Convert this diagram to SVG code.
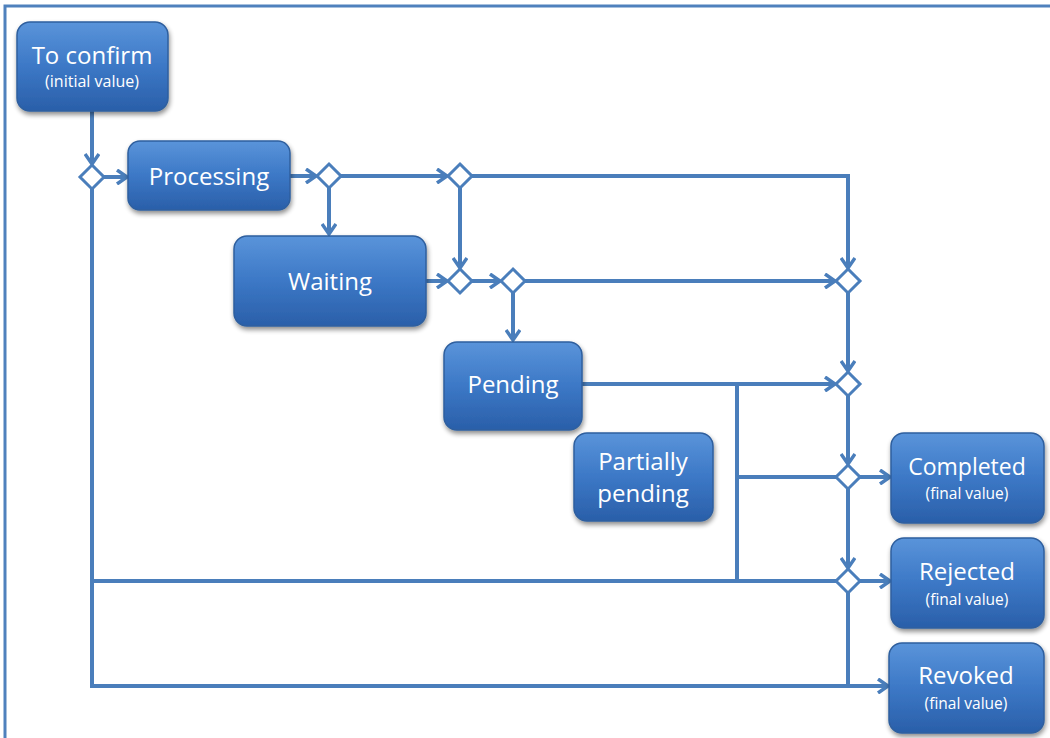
<svg xmlns="http://www.w3.org/2000/svg" width="1050" height="738" viewBox="0 0 1050 738">
<defs>
<linearGradient id="g" x1="0" y1="0" x2="0" y2="1">
<stop offset="0" stop-color="#5a94da"/>
<stop offset="0.5" stop-color="#3c78c6"/>
<stop offset="1" stop-color="#2a5fa9"/>
</linearGradient>
<filter id="sh" x="-10%" y="-10%" width="125%" height="130%">
<feGaussianBlur in="SourceAlpha" stdDeviation="2.5"/>
<feOffset dx="1" dy="3" result="b"/>
<feComponentTransfer><feFuncA type="linear" slope="0.45"/></feComponentTransfer>
<feMerge><feMergeNode/><feMergeNode in="SourceGraphic"/></feMerge>
</filter>
<marker id="ar" markerWidth="14" markerHeight="16" refX="12" refY="8" orient="auto" markerUnits="userSpaceOnUse">
<path d="M2,1 L12,8 L2,15" fill="none" stroke="#4a7ebb" stroke-width="3.5" stroke-linejoin="miter"/>
</marker>
</defs>
<style>
.box{fill:url(#g);stroke:#2f5f9e;stroke-width:1.5;filter:url(#sh)}
.t{font-family:"Open Sans",Lato,"Liberation Sans",sans-serif;fill:#ffffff;text-anchor:middle}
.big{font-size:24px}
.small{font-size:15.5px}
.ln{fill:none;stroke:#4a7ebb;stroke-width:4}
.ar{marker-end:url(#ar)}
.dm{fill:#ffffff;stroke:#4a7ebb;stroke-width:3}
.frame{fill:none;stroke:#4f81bd;stroke-width:3}
</style>
<path class="frame" d="M5,738 L5,6 L1050,6"/>
<g id="connectors">
<path class="ln ar" d="M92,111 L92,164"/>
<path class="ln ar" d="M104,177 L127,177"/>
<path class="ln ar" d="M92,189 L92,686 L888,686"/>
<path class="ln" d="M92,581 L836,581"/>
<path class="ln ar" d="M290,176 L316,176"/>
<path class="ln ar" d="M341,176 L447,176"/>
<path class="ln ar" d="M329,188 L329,234"/>
<path class="ln ar" d="M472,176 L848,176 L848,268"/>
<path class="ln ar" d="M460,188 L460,268"/>
<path class="ln ar" d="M426,281 L447,281"/>
<path class="ln ar" d="M472,281 L500,281"/>
<path class="ln ar" d="M525,281 L835,281"/>
<path class="ln ar" d="M513,293 L513,340"/>
<path class="ln ar" d="M848,293 L848,371"/>
<path class="ln ar" d="M582,384 L835,384"/>
<path class="ln" d="M737,384 L737,581"/>
<path class="ln" d="M737,477 L836,477"/>
<path class="ln ar" d="M848,396 L848,464"/>
<path class="ln ar" d="M860,477 L890,477"/>
<path class="ln ar" d="M848,489 L848,568"/>
<path class="ln ar" d="M860,581 L890,581"/>
<path class="ln" d="M848,593 L848,686"/>
</g>
<g id="decisions">
<path class="dm" d="M92,165 L104,177 L92,189 L80,177 Z"/>
<path class="dm" d="M329,164 L341,176 L329,188 L317,176 Z"/>
<path class="dm" d="M460,164 L472,176 L460,188 L448,176 Z"/>
<path class="dm" d="M460,269 L472,281 L460,293 L448,281 Z"/>
<path class="dm" d="M513,269 L525,281 L513,293 L501,281 Z"/>
<path class="dm" d="M848,269 L860,281 L848,293 L836,281 Z"/>
<path class="dm" d="M848,372 L860,384 L848,396 L836,384 Z"/>
<path class="dm" d="M848,465 L860,477 L848,489 L836,477 Z"/>
<path class="dm" d="M848,569 L860,581 L848,593 L836,581 Z"/>
</g>
<g id="to-confirm">
<rect class="box" x="17" y="22" width="151" height="89" rx="13"/>
<text class="t big" x="92" y="64">To confirm</text>
<text class="t small" x="92" y="87" style="font-size:16px">(initial value)</text>
</g>
<g id="processing">
<rect class="box" x="128" y="141" width="162" height="69" rx="12"/>
<text class="t big" x="209" y="185">Processing</text>
</g>
<g id="waiting">
<rect class="box" x="234" y="236" width="192" height="90" rx="13"/>
<text class="t big" x="330" y="290">Waiting</text>
</g>
<g id="pending">
<rect class="box" x="444" y="342" width="138" height="88" rx="13"/>
<text class="t big" x="513" y="393">Pending</text>
</g>
<g id="partially-pending">
<rect class="box" x="574" y="433" width="139" height="88" rx="13"/>
<text class="t big" x="643" y="470">Partially</text>
<text class="t big" x="643" y="502">pending</text>
</g>
<g id="completed">
<rect class="box" x="891" y="433" width="153" height="90" rx="13"/>
<text class="t big" x="967" y="475" style="font-size:23px">Completed</text>
<text class="t small" x="967" y="499">(final value)</text>
</g>
<g id="rejected">
<rect class="box" x="891" y="538" width="153" height="90" rx="13"/>
<text class="t big" x="967" y="580">Rejected</text>
<text class="t small" x="967" y="605">(final value)</text>
</g>
<g id="revoked">
<rect class="box" x="889" y="643" width="155" height="90" rx="13"/>
<text class="t big" x="966" y="684">Revoked</text>
<text class="t small" x="966" y="709">(final value)</text>
</g>
</svg>
